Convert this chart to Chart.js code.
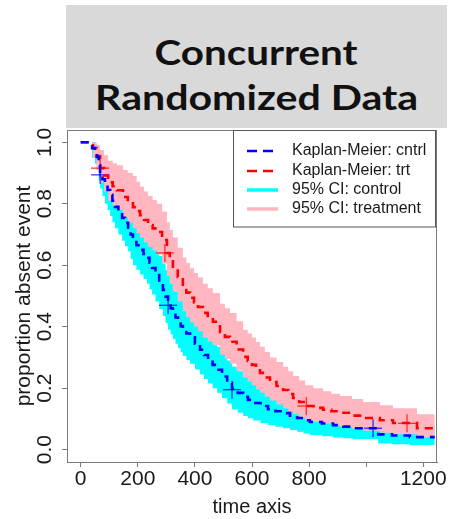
<!DOCTYPE html>
<html><head><meta charset="utf-8">
<script src="https://cdn.jsdelivr.net/npm/chart.js@4/dist/chart.umd.min.js"></script>
<style>
html,body{margin:0;padding:0;background:#fff;}
#wrap{position:relative;width:454px;height:519px;overflow:hidden;}
#c{position:absolute;left:0;top:0;}
#title{position:absolute;left:66px;top:5px;width:381px;height:123px;background:#d9d9d9;font-family:Lato,"Open Sans",sans-serif;font-weight:bold;color:#111;}
.tl{position:absolute;left:0;width:100%;text-align:center;white-space:nowrap;font-size:35px;line-height:35px;}
.tl span{display:inline-block;transform-origin:50% 50%;}
</style></head><body>
<div id="wrap"><canvas id="c" width="454" height="519"></canvas>
<div id="title"><div class="tl" style="top:29px"><span id="t1">Concurrent</span></div><div class="tl" style="top:74px"><span id="t2">Randomized Data</span></div></div></div>
<script>
// ---- data ----
const ctrlTimes = [0, 40, 50, 57, 63, 68, 76, 85, 94, 103, 111, 120, 132, 145, 155, 166, 175, 183, 195, 208, 220, 232, 241, 250, 262, 275, 288, 297, 306, 315, 323, 332, 341, 350, 358, 370, 383, 400, 418, 432, 446, 462, 478, 495, 513, 530, 550, 569, 586, 604, 630, 656, 682, 709, 733, 758, 780, 803, 845, 884, 920, 954, 1042, 1090, 1153, 1240];
const ctrlSurv  = [1.0, 0.981, 0.965, 0.952, 0.925, 0.900, 0.880, 0.862, 0.845, 0.829, 0.810, 0.790, 0.772, 0.754, 0.738, 0.722, 0.700, 0.682, 0.665, 0.650, 0.637, 0.624, 0.608, 0.591, 0.568, 0.545, 0.520, 0.498, 0.477, 0.460, 0.445, 0.430, 0.415, 0.402, 0.390, 0.378, 0.366, 0.345, 0.325, 0.308, 0.292, 0.276, 0.260, 0.238, 0.217, 0.198, 0.185, 0.172, 0.162, 0.152, 0.142, 0.132, 0.125, 0.119, 0.111, 0.103, 0.096, 0.090, 0.085, 0.080, 0.075, 0.070, 0.050, 0.046, 0.041, 0.041];
const ctrlUpper = [1.0, 1.0, 0.995, 0.99, 0.97, 0.955, 0.94, 0.92, 0.905, 0.89, 0.87, 0.855, 0.84, 0.825, 0.81, 0.795, 0.775, 0.76, 0.745, 0.73, 0.717, 0.705, 0.69, 0.675, 0.652, 0.63, 0.605, 0.585, 0.565, 0.548, 0.53, 0.515, 0.50, 0.487, 0.475, 0.462, 0.45, 0.428, 0.405, 0.388, 0.37, 0.352, 0.335, 0.312, 0.29, 0.27, 0.255, 0.24, 0.228, 0.215, 0.202, 0.19, 0.182, 0.175, 0.165, 0.155, 0.147, 0.14, 0.132, 0.125, 0.12, 0.115, 0.09, 0.085, 0.08, 0.08];
const ctrlLower = [1.0, 0.95, 0.93, 0.91, 0.875, 0.85, 0.825, 0.80, 0.78, 0.76, 0.74, 0.72, 0.70, 0.68, 0.662, 0.645, 0.62, 0.60, 0.585, 0.57, 0.555, 0.54, 0.522, 0.505, 0.482, 0.458, 0.435, 0.412, 0.39, 0.375, 0.36, 0.345, 0.33, 0.317, 0.305, 0.292, 0.28, 0.262, 0.245, 0.23, 0.215, 0.2, 0.185, 0.167, 0.15, 0.132, 0.12, 0.11, 0.102, 0.095, 0.087, 0.08, 0.075, 0.07, 0.064, 0.058, 0.053, 0.048, 0.044, 0.04, 0.037, 0.035, 0.02, 0.018, 0.015, 0.015];

const trtTimes = [0, 43, 55, 68, 82, 96, 112, 127, 148, 165, 183, 196, 208, 222, 236, 252, 267, 285, 302, 312, 323, 340, 358, 370, 383, 397, 411, 428, 445, 463, 488, 505, 523, 546, 569, 585, 600, 614, 628, 645, 663, 686, 709, 727, 744, 765, 786, 815, 849, 878, 908, 950, 989, 1048, 1094, 1178, 1240];
const trtSurv  = [1.0, 0.981, 0.955, 0.916, 0.892, 0.870, 0.857, 0.844, 0.822, 0.806, 0.789, 0.776, 0.763, 0.747, 0.731, 0.720, 0.708, 0.682, 0.640, 0.618, 0.595, 0.562, 0.529, 0.511, 0.494, 0.479, 0.464, 0.445, 0.430, 0.416, 0.383, 0.367, 0.351, 0.326, 0.302, 0.289, 0.276, 0.263, 0.250, 0.235, 0.220, 0.207, 0.194, 0.181, 0.168, 0.155, 0.142, 0.136, 0.130, 0.125, 0.120, 0.111, 0.103, 0.096, 0.087, 0.070, 0.070];
const trtUpper = [1.0, 1.0, 0.99, 0.975, 0.958, 0.94, 0.932, 0.925, 0.91, 0.90, 0.89, 0.872, 0.855, 0.84, 0.825, 0.812, 0.80, 0.775, 0.74, 0.715, 0.69, 0.657, 0.625, 0.607, 0.59, 0.575, 0.56, 0.54, 0.525, 0.51, 0.475, 0.46, 0.445, 0.418, 0.39, 0.378, 0.365, 0.35, 0.335, 0.318, 0.30, 0.285, 0.27, 0.255, 0.24, 0.225, 0.21, 0.20, 0.19, 0.182, 0.175, 0.165, 0.155, 0.145, 0.135, 0.115, 0.115];
const trtLower = [1.0, 0.95, 0.91, 0.87, 0.84, 0.81, 0.795, 0.78, 0.755, 0.738, 0.72, 0.705, 0.69, 0.675, 0.66, 0.648, 0.635, 0.605, 0.565, 0.54, 0.515, 0.482, 0.45, 0.432, 0.415, 0.40, 0.385, 0.365, 0.352, 0.34, 0.31, 0.295, 0.28, 0.257, 0.235, 0.222, 0.21, 0.197, 0.185, 0.172, 0.16, 0.147, 0.135, 0.125, 0.115, 0.105, 0.095, 0.09, 0.085, 0.08, 0.075, 0.068, 0.062, 0.055, 0.05, 0.04, 0.04];

const ctrlCensorTimes = [68, 306, 530, 1024];
const ctrlCensorSurv  = [0.894, 0.470, 0.195, 0.070];
const trtCensorTimes  = [68, 295, 790, 1143];
const trtCensorSurv   = [0.916, 0.640, 0.142, 0.086];

const xTickValues = [0, 200, 400, 600, 800, 1000, 1200];
const xTickLabels = ['0', '200', '400', '600', '800', '', '1200'];
const yTickValues = [0, 0.2, 0.4, 0.6, 0.8, 1.0];
const yTickLabels = ['0.0', '0.2', '0.4', '0.6', '0.8', '1.0'];
const legendLabels = ['Kaplan-Meier: cntrl', 'Kaplan-Meier: trt', '95% CI: control', '95% CI: treatment'];
const xAxisTitle = 'time axis';
const yAxisTitle = 'proportion absent event';

// ---- title sizing ----
(function(){
  const m = document.createElement('canvas').getContext('2d');
  m.font = 'bold 35px Lato, "Open Sans", sans-serif';
  const fit = (id, target) => {
    const el = document.getElementById(id);
    const w = m.measureText(el.textContent).width;
    el.style.transform = 'scaleX(' + (target / w) + ')';
  };
  fit('t1', 203); fit('t2', 323);
})();

const FONT = '"Liberation Sans", Arial, sans-serif';
Chart.defaults.font.family = FONT;
Chart.defaults.color = '#1a1a1a';

const BLUE = '#0000ff', RED = '#ff0000', CYAN = '#00ffff', PINK = '#ffb6c1', AXIS = '#7a7a7a';
const mk = (ts, vs) => ts.map((t, i) => ({x: t, y: vs[i]}));
const band = (data, fill, color) => ({data, stepped: 'before', pointRadius: 0, borderWidth: 1, borderColor: 'rgba(0,0,0,0)', backgroundColor: color, fill});
const km = (data, color) => ({data, stepped: 'before', pointRadius: 0, borderWidth: 2.6, borderColor: color, borderDash: [8, 6], fill: false});
const cens = (data, color) => ({data, showLine: false, pointStyle: 'cross', pointRadius: 9, pointHoverRadius: 9, pointBorderWidth: 1, pointBorderColor: color, pointBackgroundColor: color});

const yLabelPlugin = {
  id: 'yRotLabels',
  afterDraw(chart) {
    const s = chart.scales.y, c = chart.ctx;
    c.save();
    c.font = '21px ' + FONT; c.fillStyle = '#1a1a1a';
    c.textAlign = 'center'; c.textBaseline = 'middle';
    yTickValues.forEach((v, i) => {
      const y = s.getPixelForValue(v);
      c.save(); c.translate(45, y); c.rotate(-Math.PI / 2);
      c.fillText(yTickLabels[i], 0, 0); c.restore();
    });
    c.restore();
  }
};
const boxPlugin = {
  id: 'plotBox',
  afterDraw(chart) {
    const a = chart.chartArea, c = chart.ctx;
    c.save(); c.strokeStyle = AXIS; c.lineWidth = 1;
    c.strokeRect(a.left + 0.5, a.top + 0.5, a.right - a.left - 1, a.bottom - a.top);
    c.restore();
  }
};
const legendPlugin = {
  id: 'rLegend',
  afterDraw(chart) {
    const c = chart.ctx, a = chart.chartArea;
    const L = 233, R = a.right - 1, T = a.top, B = 227;
    c.save();
    c.fillStyle = '#fff'; c.fillRect(L, T, R - L, B - T);
    c.strokeStyle = '#555'; c.lineWidth = 1; c.strokeRect(L + 0.5, T + 0.5, R - L - 1, B - T - 0.5);
    const rows = [151, 171, 190, 209];
    const styles = [[BLUE, [10, 6], 2.6, 274], [RED, [10, 6], 2.6, 274], [CYAN, [], 3.5, 278], [PINK, [], 3.5, 278]];
    rows.forEach((y, i) => {
      const [col, dash, lw, x2] = styles[i];
      c.strokeStyle = col; c.lineWidth = lw; c.setLineDash(dash);
      c.beginPath(); c.moveTo(247, y); c.lineTo(x2, y); c.stroke();
    });
    c.setLineDash([]);
    c.font = '16px ' + FONT; c.fillStyle = '#1a1a1a'; c.textAlign = 'left'; c.textBaseline = 'middle';
    rows.forEach((y, i) => c.fillText(legendLabels[i], 292, y));
    c.restore();
  }
};

new Chart(document.getElementById('c'), {
  type: 'line',
  data: {
    datasets: [
      km(mk(ctrlTimes, ctrlSurv), BLUE),
      km(mk(trtTimes, trtSurv), RED),
      cens(mk(ctrlCensorTimes, ctrlCensorSurv), BLUE),
      cens(mk(trtCensorTimes, trtCensorSurv), RED),
      band(mk(trtTimes, trtUpper), '+1', PINK),
      band(mk(trtTimes, trtLower), false, PINK),
      band(mk(ctrlTimes, ctrlUpper), '+1', CYAN),
      band(mk(ctrlTimes, ctrlLower), false, CYAN)
    ]
  },
  options: {
    responsive: false, animation: false, devicePixelRatio: 1,
    layout: {padding: {top: 130, right: 17, left: 0, bottom: 0}},
    plugins: {legend: {display: false}, tooltip: {enabled: false}},
    events: [],
    scales: {
      x: {
        type: 'linear', min: -48, max: 1248,
        afterBuildTicks: s => { s.ticks = xTickValues.map(v => ({value: v})); },
        afterFit: s => { s.height = 57; },
        ticks: {callback: (v, i) => xTickLabels[i], font: {size: 21}, color: '#1a1a1a', padding: 0, maxRotation: 0, minRotation: 0, autoSkip: false},
        grid: {drawOnChartArea: false, tickLength: 5, color: AXIS, tickColor: AXIS},
        border: {display: true, color: AXIS},
        title: {display: true, text: xAxisTitle, font: {size: 20}, color: '#1a1a1a', padding: 0}
      },
      y: {
        type: 'linear', min: -0.04, max: 1.04,
        afterBuildTicks: s => { s.ticks = yTickValues.map(v => ({value: v})); },
        afterFit: s => { s.width = 67; },
        ticks: {display: false},
        grid: {drawOnChartArea: false, tickLength: 5, color: AXIS, tickColor: AXIS},
        border: {display: true, color: AXIS},
        title: {display: true, text: yAxisTitle, font: {size: 21}, color: '#1a1a1a', padding: {top: 12, bottom: 0}}
      }
    }
  },
  plugins: [yLabelPlugin, boxPlugin, legendPlugin]
});
</script>
</body></html>
